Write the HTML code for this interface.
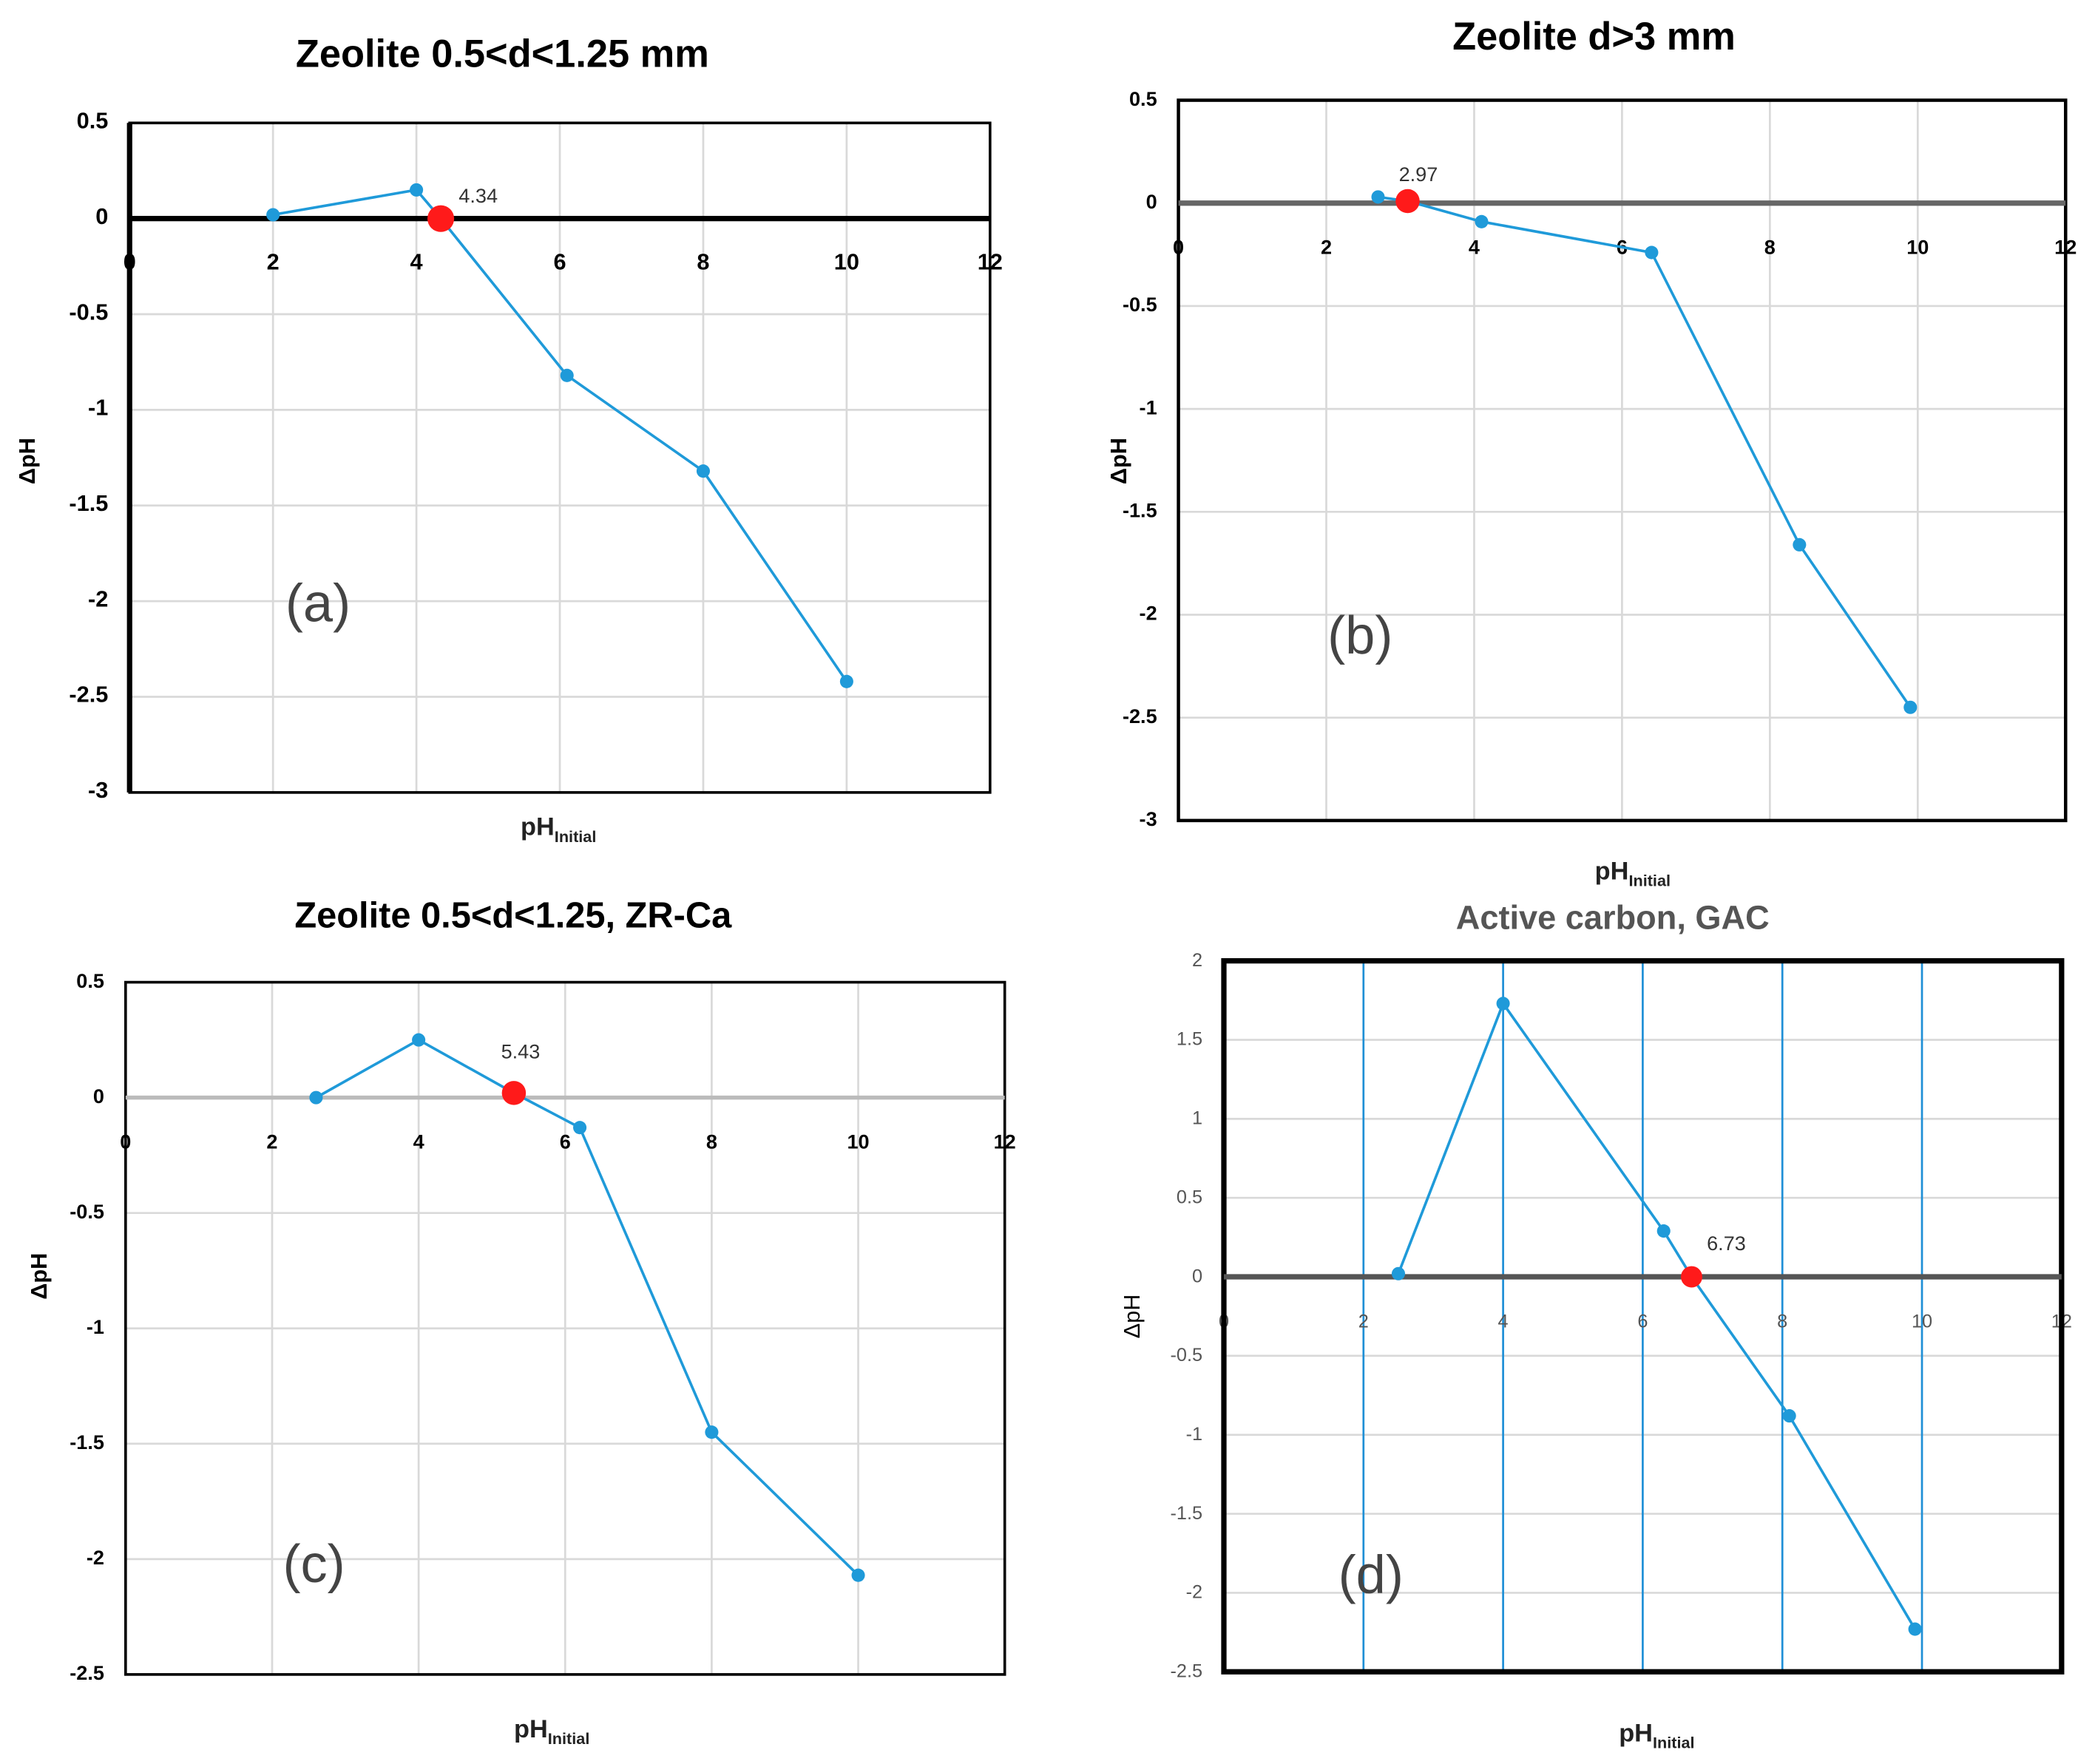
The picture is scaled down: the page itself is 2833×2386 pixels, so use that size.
<!DOCTYPE html>
<html><head><meta charset="utf-8"><style>
html,body{margin:0;padding:0;background:#fff}
svg{display:block}
text{font-family:"Liberation Sans",sans-serif}
</style></head><body>
<svg id="chart" width="2833" height="2386" viewBox="0 0 1568 1320" preserveAspectRatio="none" xmlns="http://www.w3.org/2000/svg"></svg>
<script>
// Panel data (x = pH initial, y = ΔpH)
const xTicks = [0,2,4,6,8,10,12];
const aX = [2,4,4.34,6.1,8,10];
const aY = [0.02,0.15,0,-0.82,-1.32,-2.42];
const aPzcX = [4.34]; const aPzcY = [0]; const aPzcLabel = ["4.34"];
const aYTicks = [0.5,0,-0.5,-1,-1.5,-2,-2.5,-3];
const bX = [2.7,3.1,4.1,6.4,8.4,9.9];
const bY = [0.03,0.01,-0.09,-0.24,-1.66,-2.45];
const bPzcX = [3.1]; const bPzcY = [0.01]; const bPzcLabel = ["2.97"];
const bYTicks = [0.5,0,-0.5,-1,-1.5,-2,-2.5,-3];
const cX = [2.6,4,5.3,6.2,8,10];
const cY = [0,0.25,0.02,-0.13,-1.45,-2.07];
const cPzcX = [5.3]; const cPzcY = [0.02]; const cPzcLabel = ["5.43"];
const cYTicks = [0.5,0,-0.5,-1,-1.5,-2,-2.5];
const dX = [2.5,4,6.3,6.7,8.1,9.9];
const dY = [0.02,1.73,0.29,0,-0.88,-2.23];
const dPzcX = [6.7]; const dPzcY = [0]; const dPzcLabel = ["6.73"];
const dYTicks = [2,1.5,1,0.5,0,-0.5,-1,-1.5,-2,-2.5];

const svg = document.getElementById('chart');
const NS = 'http://www.w3.org/2000/svg';
function mk(tag, attrs, parent){const e=document.createElementNS(NS,tag);for(const k in attrs)e.setAttribute(k,attrs[k]);(parent||svg).appendChild(e);return e;}

function panel(o){
  const g = mk('g',{});
  
  
  const ymax=o.yTicks[0], ymin=o.yTicks[o.yTicks.length-1];
  const sx = v => o.L + (v-0)/12*(o.R-o.L);
  const sy = v => o.T + (ymax-v)/(ymax-ymin)*(o.B-o.T);
  o.yTicks.forEach(t=>{
    const l=mk('line',{x1:o.L,x2:o.R,y1:sy(t),y2:sy(t),stroke:'#d9d9d9','stroke-width':1.5},g);
    
    
    const tx=mk('text',{x:o.L-16,y:sy(t)+4,'text-anchor':'end','font-size':o.tickFs,fill:o.tickColor,'font-weight':o.tickBold?'bold':'normal'},g);
    tx.textContent=String(t);
    
    
  });
  xTicks.forEach(t=>{
    if(t>0&&t<12){
      const l=mk('line',{x1:sx(t),x2:sx(t),y1:o.T,y2:o.B,stroke:o.vgrid,'stroke-width':o.vgridW},g);
      
      
    }
    const tx=mk('text',{x:sx(t),y:sy(0)+38,'text-anchor':'middle','font-size':o.tickFs,fill:o.tickColor,'font-weight':o.tickBold?'bold':'normal'},g);
    tx.textContent=String(t);
    
    
  });
  const fr=mk('rect',{x:o.L,y:o.T,width:o.R-o.L,height:o.B-o.T,fill:'none',stroke:'#000','stroke-width':o.frameW},g);
  
  
  if(o.leftW){const la=mk('line',{x1:o.L,x2:o.L,y1:o.T,y2:o.B,stroke:'#000','stroke-width':o.leftW},g);
    
    }
  const z=mk('line',{x1:o.L,x2:o.R,y1:sy(0),y2:sy(0),stroke:o.zeroColor,'stroke-width':o.zeroW},g);
  
  
  const pts=o.xs.map((x,i)=>sx(x)+','+sy(o.ys[i])).join(' ');
  const pl=mk('polyline',{points:pts,fill:'none',stroke:'#1f9ad9','stroke-width':2},g);
  
  
  o.xs.forEach((x,i)=>{
    const c=mk('circle',{cx:sx(x),cy:sy(o.ys[i]),r:5,fill:'#1f9ad9'},g);
    
    
  });
  o.pzcX.forEach((x,i)=>{
    const c=mk('circle',{cx:sx(x),cy:sy(o.pzcY[i]),r:o.pzcR,fill:'#ff1a1a'},g);
    
    
    const t=mk('text',{x:sx(x)+o.lblDx,y:sy(o.pzcY[i])+o.lblDy,'text-anchor':'middle','font-size':15,fill:'#333'},g);
    t.textContent=o.pzcLabel[i];
    
    
  });
  const ti=mk('text',{x:o.titleX,y:o.titleY,'text-anchor':'middle','font-size':o.titleFs,'font-weight':'bold',fill:o.titleColor},g);
  ti.textContent=o.title;
  
  
  const yt=mk('text',{x:0,y:0,'text-anchor':'middle','font-size':17,'font-weight':o.tickBold?'bold':'normal',fill:'#000',transform:`translate(${o.yTitleX},${o.yTitleY}) rotate(-90)`},g);
  yt.textContent='ΔpH';
  
  
  const xt=mk('text',{x:o.xTitleX,y:o.xTitleY,'text-anchor':'middle','font-size':19,'font-weight':'bold',fill:'#222'},g);
  xt.textContent='pH';
  
  
  const sub=mk('tspan',{'font-size':12,dy:5},xt); sub.textContent='Initial';
  const pt=mk('text',{x:o.tagX,y:o.tagY,'text-anchor':'middle','font-size':40,fill:'#444'},g);
  pt.textContent='('+o.id+')';
  
  
}

panel({id:'a',L:97,R:741,T:92,B:593,yTicks:aYTicks,xs:aX,ys:aY,pzcX:aPzcX,pzcY:aPzcY,pzcLabel:aPzcLabel,pzcR:10,lblDx:28,lblDy:-12,
  frameW:2,leftW:4,zeroColor:'#000',zeroW:4,vgrid:'#d9d9d9',vgridW:1.5,tickFs:17,tickColor:'#000',tickBold:true,
  title:'Zeolite 0.5<d<1.25 mm',titleFs:29,titleX:376,titleY:50,titleColor:'#000',yTitleX:26,yTitleY:345,xTitleX:418,xTitleY:625,tagX:238,tagY:465});
panel({id:'b',L:882,R:1546,T:75,B:614,yTicks:bYTicks,xs:bX,ys:bY,pzcX:bPzcX,pzcY:bPzcY,pzcLabel:bPzcLabel,pzcR:9,lblDx:8,lblDy:-15,
  frameW:2.5,leftW:0,zeroColor:'#666',zeroW:4,vgrid:'#d9d9d9',vgridW:1.5,tickFs:15,tickColor:'#000',tickBold:true,
  title:'Zeolite d>3 mm',titleFs:29,titleX:1193,titleY:37,titleColor:'#000',yTitleX:843,yTitleY:345,xTitleX:1222,xTitleY:658,tagX:1018,tagY:489});
panel({id:'c',L:94,R:752,T:735,B:1253,yTicks:cYTicks,xs:cX,ys:cY,pzcX:cPzcX,pzcY:cPzcY,pzcLabel:cPzcLabel,pzcR:9,lblDx:5,lblDy:-26,
  frameW:2,leftW:0,zeroColor:'#bbb',zeroW:3,vgrid:'#d9d9d9',vgridW:1.5,tickFs:15,tickColor:'#000',tickBold:true,
  title:'Zeolite 0.5<d<1.25,  ZR-Ca',titleFs:27,titleX:384,titleY:694,titleColor:'#000',yTitleX:35,yTitleY:955,xTitleX:413,xTitleY:1300,tagX:235,tagY:1184});
panel({id:'d',L:916,R:1543,T:719,B:1251,yTicks:dYTicks,xs:dX,ys:dY,pzcX:dPzcX,pzcY:dPzcY,pzcLabel:dPzcLabel,pzcR:8,lblDx:26,lblDy:-20,
  frameW:4,leftW:0,zeroColor:'#555',zeroW:4,vgrid:'#1f8fd6',vgridW:1.5,tickFs:14,tickColor:'#555',tickBold:false,
  title:'Active carbon, GAC',titleFs:25,titleX:1207,titleY:695,titleColor:'#555',yTitleX:853,yTitleY:985,xTitleX:1240,xTitleY:1303,tagX:1026,tagY:1192});
</script>
</body></html>
